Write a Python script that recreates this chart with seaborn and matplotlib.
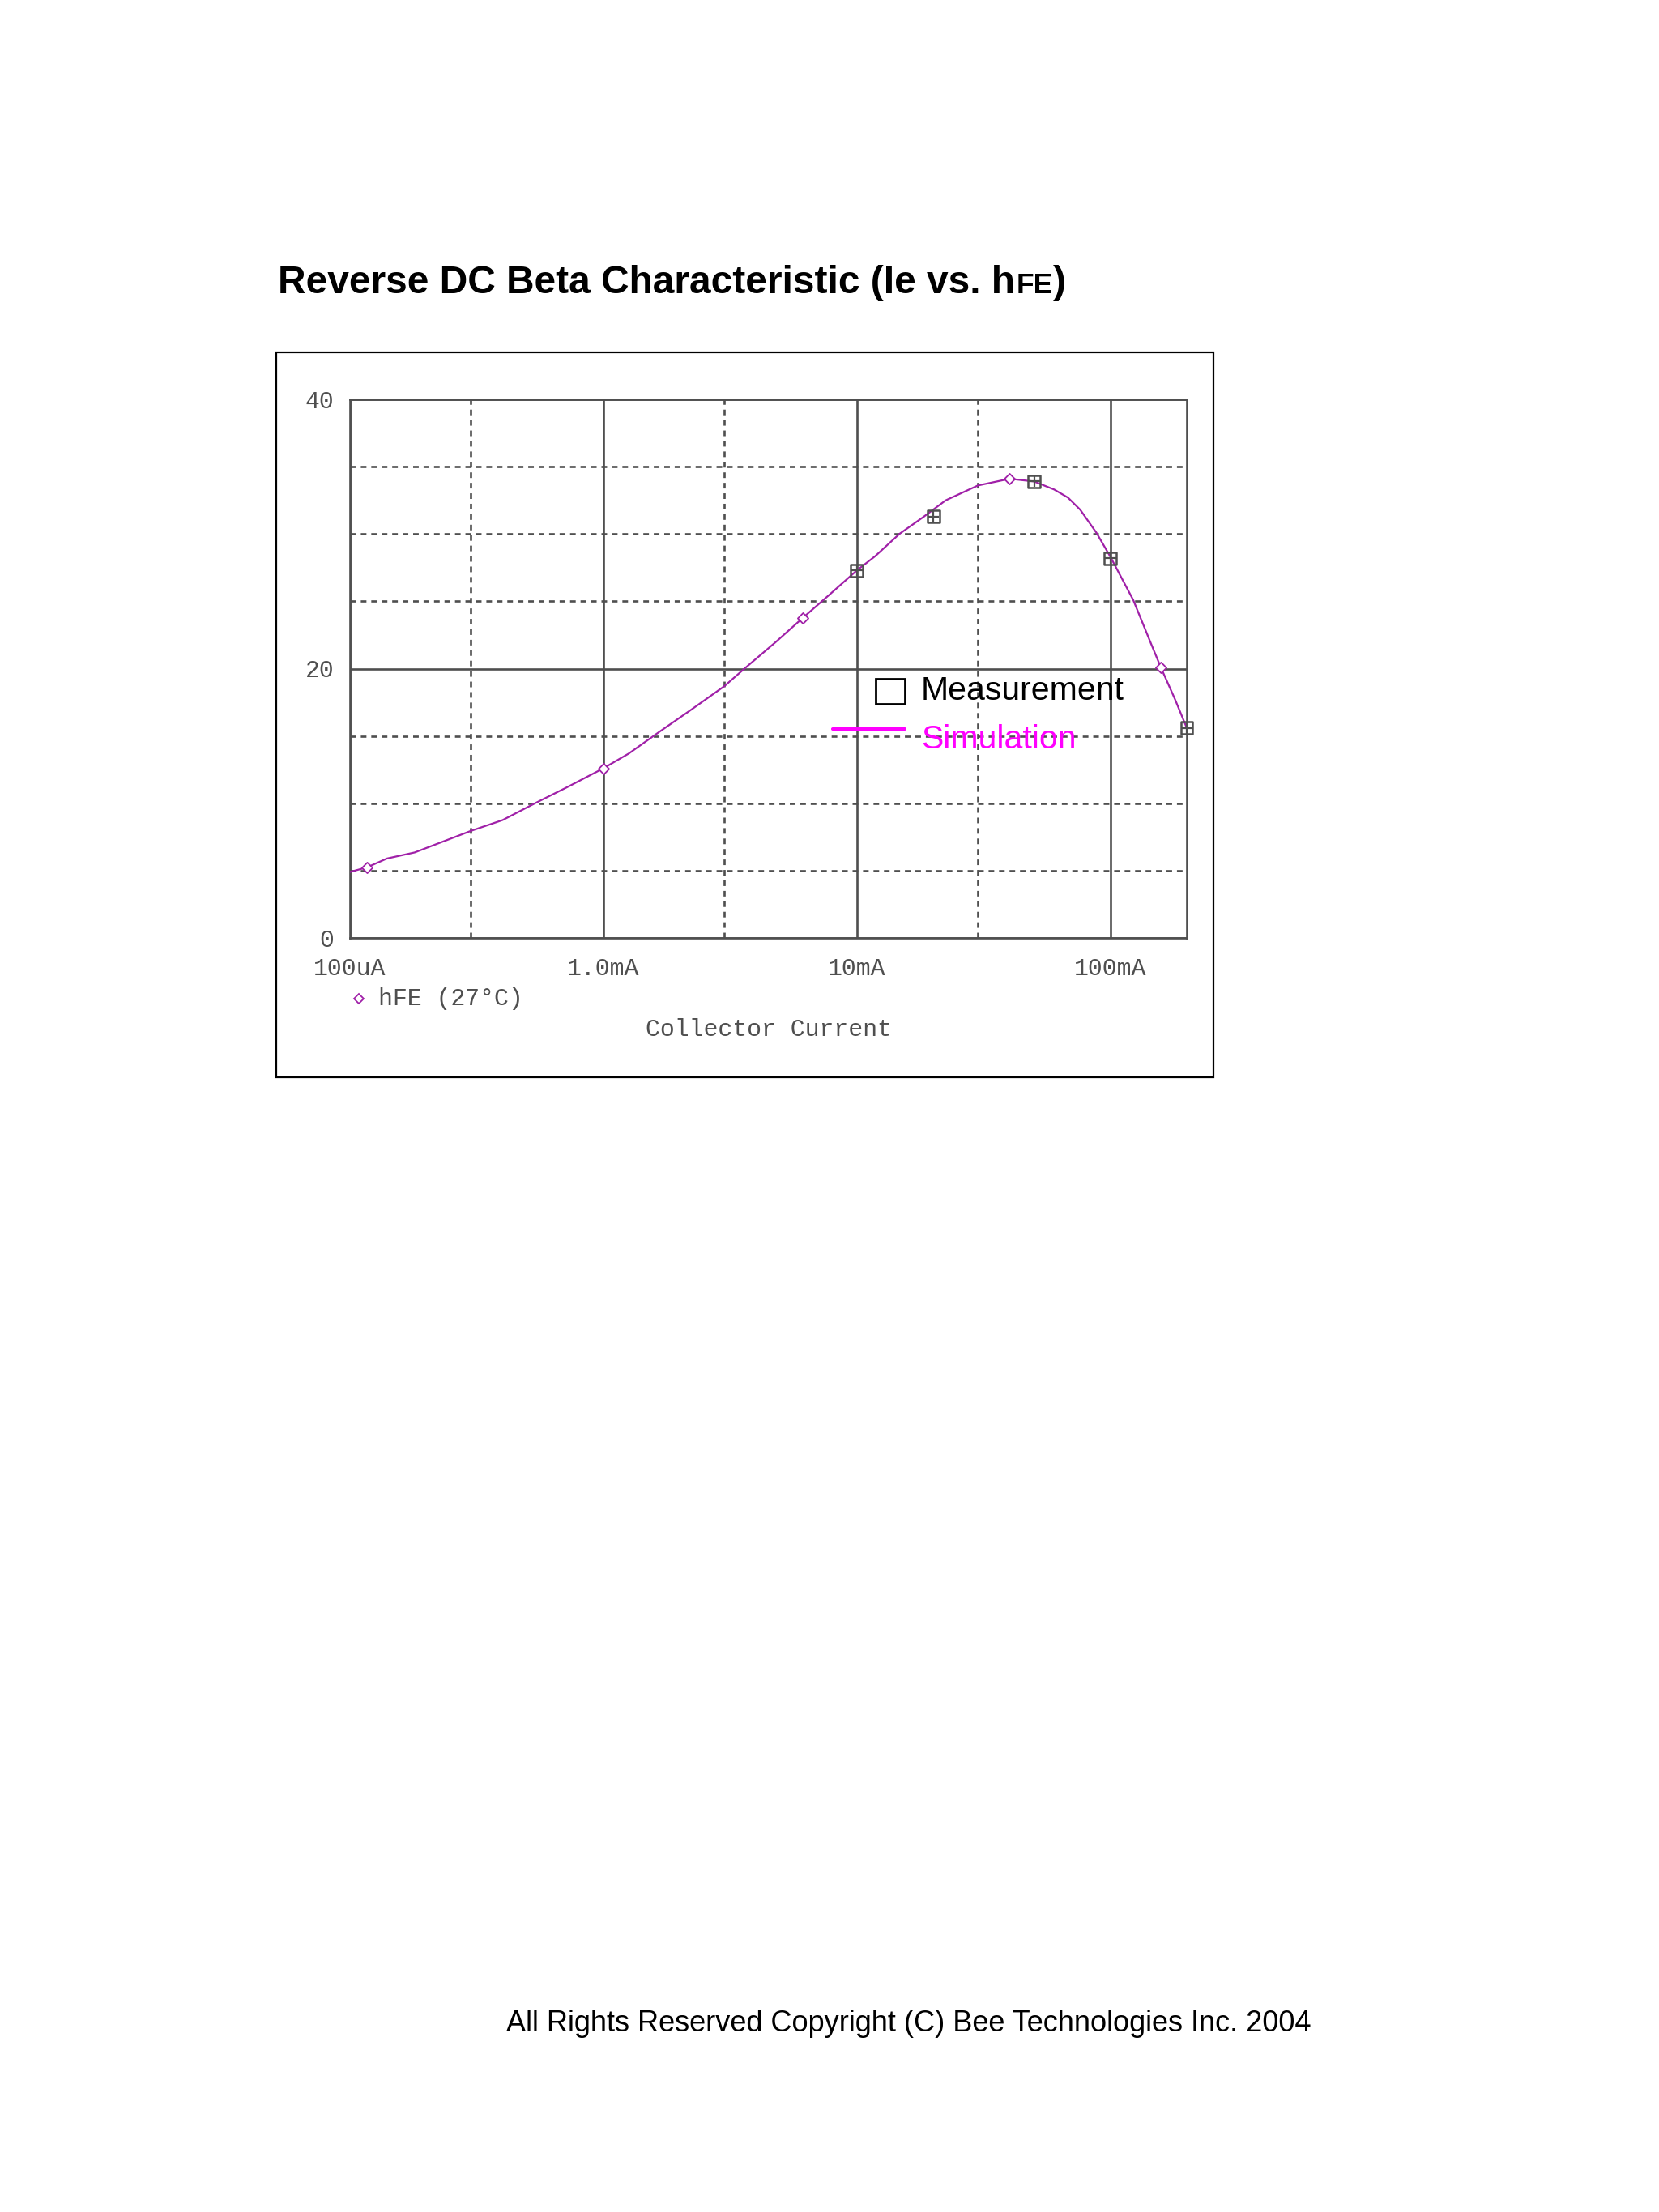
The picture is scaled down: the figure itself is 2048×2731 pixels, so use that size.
import matplotlib
matplotlib.use("Agg")
import matplotlib.pyplot as plt
import matplotlib.ticker as mticker
from matplotlib.patches import Rectangle
from matplotlib.lines import Line2D
import seaborn as sns

# Simulation trace (hFE vs collector current, A)
sim_current = [1.0e-4, 1.17e-4, 1.4e-4, 1.8e-4, 2.4e-4, 3.0e-4, 4.0e-4, 5.5e-4, 7.2e-4,
               1.0e-3, 1.26e-3, 1.66e-3, 2.2e-3, 3.0e-3, 3.6e-3, 4.8e-3, 6.1e-3, 7.8e-3,
               1.0e-2, 1.18e-2, 1.47e-2, 1.84e-2, 2.24e-2, 3.0e-2, 4.0e-2, 5.0e-2, 6.0e-2,
               6.8e-2, 7.6e-2, 8.8e-2, 0.1, 0.123, 0.145, 0.158, 0.18, 0.2]
sim_hfe = [4.9, 5.25, 5.9, 6.35, 7.25, 7.95, 8.75, 10.1, 11.2,
           12.6, 13.7, 15.3, 16.9, 18.7, 20.0, 22.0, 23.75, 25.5,
           27.3, 28.35, 30.0, 31.3, 32.5, 33.6, 34.1, 33.9, 33.3,
           32.7, 31.8, 30.1, 28.3, 25.1, 21.8, 20.1, 17.7, 15.6]

# trace markers drawn by the simulator
mark_current = [1.17e-4, 1.0e-3, 6.1e-3, 4.0e-2, 0.158]
mark_hfe = [5.25, 12.6, 23.75, 34.1, 20.1]

# measured points
meas_current = [1.0e-2, 2.0e-2, 5.0e-2, 0.1, 0.2]
meas_hfe = [27.3, 31.3, 33.9, 28.2, 15.6]

x_ticks = [1e-4, 1e-3, 1e-2, 1e-1]
x_ticklabels = ["100uA", "1.0mA", "10mA", "100mA"]
x_minor = [3e-4, 3e-3, 3e-2]
y_ticks = [0, 20, 40]
y_minor = [5, 10, 15, 25, 30, 35]

W, H = 2048, 2731
sns.set_style("white")
plt.rcParams["font.family"] = ["Liberation Sans", "DejaVu Sans"]
plt.rcParams["text.color"] = "black"
plt.rcParams["lines.scale_dashes"] = False

fig = plt.figure(figsize=(W / 100, H / 100), dpi=100)
fig.patch.set_facecolor("white")

grey = "#4f4f4f"
purple = "#a020a8"
mono = ["Liberation Mono", "DejaVu Sans Mono"]

ax = fig.add_axes([432 / W, 1 - 1158 / H, (1465 - 432) / W, (1158 - 493) / H])
ax.set_xscale("log")
ax.set_xlim(1e-4, 0.2)
ax.set_ylim(0, 40)

ax.set_xticks(x_ticks)
ax.set_xticklabels(x_ticklabels)
ax.set_xticks(x_minor, minor=True)
ax.xaxis.set_minor_formatter(mticker.NullFormatter())
ax.set_yticks(y_ticks)
ax.set_yticks(y_minor, minor=True)

ax.grid(True, which="major", color=grey, linewidth=1.9, linestyle="-")
ax.grid(True, which="minor", color=grey, linewidth=1.9, dashes=(5, 4.3))
for s in ax.spines.values():
    s.set_color(grey)
    s.set_linewidth(1.9)
ax.tick_params(which="major", direction="out", length=8, width=1.9, color=grey,
               labelcolor=grey, labelsize=21.5)
ax.tick_params(axis="x", which="major", pad=9)
ax.tick_params(axis="y", which="major", pad=6)
ax.tick_params(which="minor", length=0)
for lab in ax.get_xticklabels() + ax.get_yticklabels():
    lab.set_family(mono)

sns.lineplot(x=sim_current, y=sim_hfe, ax=ax, color=purple, linewidth=1.6,
             estimator=None, sort=False, zorder=3)
sns.scatterplot(x=mark_current, y=mark_hfe, ax=ax, marker="D", s=45,
                facecolor="white", edgecolor=purple, linewidth=1.3, zorder=4, clip_on=False)
sns.scatterplot(x=meas_current, y=meas_hfe, ax=ax, marker="s", s=115,
                facecolor="none", edgecolor=grey, linewidth=1.8, zorder=5, clip_on=False)
sns.scatterplot(x=meas_current, y=meas_hfe, ax=ax, marker="+", s=115,
                color=grey, linewidth=1.6, zorder=5, clip_on=False)
ax.set_xlabel("")
ax.set_ylabel("")

# outer frame around the plot
fig.patches.append(Rectangle((341 / W, 1 - 1330 / H), (1498 - 341) / W, (1330 - 435) / H,
                             transform=fig.transFigure, fill=False, edgecolor="black",
                             linewidth=1.6))

# title with small-caps subscript
t1 = fig.text(343 / W, 1 - 362 / H, "Reverse DC Beta Characteristic (Ie vs. h",
              fontsize=34.5, fontweight="bold", va="baseline", ha="left")
t2 = fig.text(0, 0, "FE", fontsize=25.5, fontweight="bold", va="baseline", ha="left")
t3 = fig.text(0, 0, ")", fontsize=34.5, fontweight="bold", va="baseline", ha="left")
fig.canvas.draw()
r = fig.canvas.get_renderer()
bb1 = t1.get_window_extent(r)
t2.set_position((bb1.x1 / W + 2 / W, 1 - 362 / H))
bb2 = t2.get_window_extent(r)
t3.set_position((bb2.x1 / W, 1 - 362 / H))

# in-plot legend
fig.patches.append(Rectangle((1081 / W, 1 - 869 / H), 36 / W, 31 / H,
                             transform=fig.transFigure, fill=False, edgecolor="black",
                             linewidth=2))
fig.text(1137 / W, 1 - 853 / H, "Measurement", fontsize=29.5, va="center", color="black")
fig.lines.append(Line2D([1028 / W, 1117 / W], [1 - 900 / H, 1 - 900 / H],
                        transform=fig.transFigure, color="#ff00ff", linewidth=3))
fig.text(1137 / W, 1 - 913 / H, "Simulation", fontsize=29.5, va="center", color="#ff00ff")

# trace legend and axis title in the simulator's mono font
fig.lines.append(Line2D([443 / W], [1 - 1233 / H], transform=fig.transFigure, marker="D",
                        markersize=6, markerfacecolor="white", markeredgecolor=purple,
                        markeredgewidth=1.3, linestyle="none"))
fig.text(467 / W, 1 - 1233 / H, "hFE (27°C)", fontsize=21.5, family=mono, color=grey,
         va="center", ha="left")
fig.text(949 / W, 1 - 1271 / H, "Collector Current", fontsize=21.5, family=mono,
         color=grey, va="center", ha="center")

fig.text(625 / W, 1 - 2508 / H,
         "All Rights Reserved Copyright (C) Bee Technologies Inc. 2004",
         fontsize=26, va="baseline", ha="left", color="black")

fig.savefig("out.png", dpi=100)
